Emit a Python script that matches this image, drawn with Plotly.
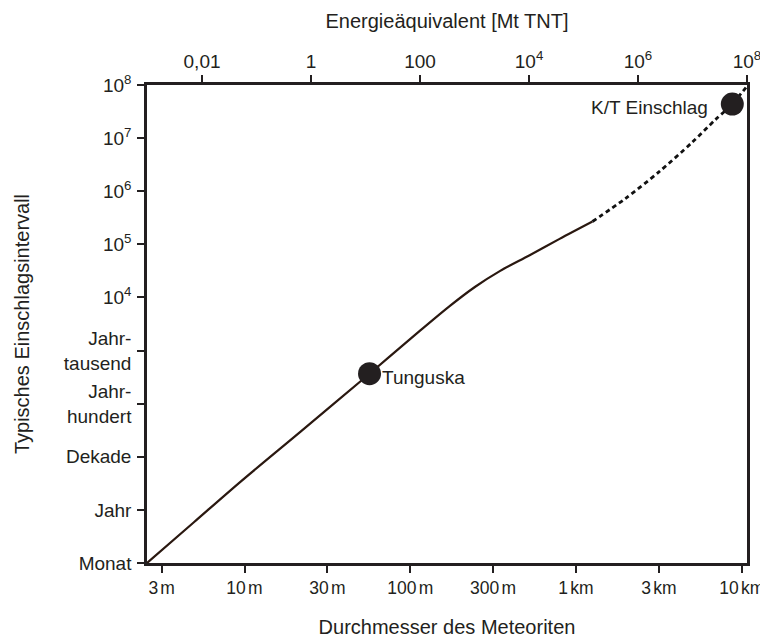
import numpy as np
import plotly.graph_objects as go

# ---- data ----
# solid part of the curve: meteorite diameter [m] vs typical impact interval [years]
solid_diameter_m = [2.58, 4.95, 9.48, 21.8, 56.8, 114.6, 173.6, 245.5, 347, 525.6, 796.5, 1257.6]
solid_interval_yr = [0.1, 0.584, 3.41, 29.8, 366, 2365, 6936, 15720, 31290, 62300, 126700, 269000]
# dashed (extrapolated) part
dashed_diameter_m = [1257.6, 1986, 3181, 5022, 6941, 8777, 10605]
dashed_interval_yr = [269000, 727500, 2.333e6, 8.31e6, 2.227e7, 4.38e7, 8.97e7]
# named events
event_names = ["Tunguska", "K/T Einschlag"]
event_diameter_m = [56.8, 8777]
event_interval_yr = [366, 4.38e7]

# axis ticks
SP = "<span style='font-size:8px'> </span>"
x_tick_vals = [10**0.5, 10, 10**1.5, 100, 10**2.5, 1000, 10**3.5, 10000]
x_tick_text = ["3" + SP + "m", "10" + SP + "m", "30" + SP + "m", "100" + SP + "m", "300" + SP + "m",
               "1" + SP + "km", "3" + SP + "km", "10" + SP + "km"]
y_tick_vals = [0.1, 1, 10, 100, 1000, 1e4, 1e5, 1e6, 1e7, 1e8]
y_tick_text = ["Monat", "Jahr", "Dekade", "Jahr-<br>hundert", "Jahr-<br>tausend",
               "10<sup>4</sup>", "10<sup>5</sup>", "10<sup>6</sup>", "10<sup>7</sup>", "10<sup>8</sup>"]
e_tick_vals = [0.01, 1, 100, 1e4, 1e6, 1e8]
e_tick_text = ["0,01", "1", "100", "10<sup>4</sup>", "10<sup>6</sup>", "10<sup>8</sup>"]

INK = "#231f20"
FONT = "Liberation Sans, Arial, sans-serif"

fig = go.Figure()
fig.add_trace(go.Scatter(x=solid_diameter_m, y=solid_interval_yr, mode="lines",
                         line=dict(color="#2a1810", width=2.2, shape="spline", smoothing=0.9),
                         hoverinfo="skip", showlegend=False))
fig.add_trace(go.Scatter(x=dashed_diameter_m, y=dashed_interval_yr, mode="lines",
                         line=dict(color="#111111", width=2.8, dash="4.5px,3.5px", shape="spline", smoothing=0.8),
                         hoverinfo="skip", showlegend=False))
fig.add_trace(go.Scatter(x=event_diameter_m, y=event_interval_yr, mode="markers",
                         marker=dict(size=23, color=INK),
                         hoverinfo="skip", showlegend=False))
# invisible trace so the top energy axis is drawn
fig.add_trace(go.Scatter(x=[0.01, 1e8], y=[1, 1], xaxis="x2", mode="markers",
                         marker=dict(opacity=0), hoverinfo="skip", showlegend=False))

fig.add_annotation(x=np.log10(event_diameter_m[0]), y=np.log10(event_interval_yr[0]),
                   text=event_names[0], showarrow=False, xanchor="left", yanchor="middle",
                   xshift=10, yshift=-4, font=dict(family=FONT, size=19, color=INK))
fig.add_annotation(x=np.log10(event_diameter_m[1]), y=np.log10(event_interval_yr[1]),
                   text=event_names[1], showarrow=False, xanchor="right", yanchor="middle",
                   xshift=-22, yshift=-3, font=dict(family=FONT, size=19, color=INK))

def axis_common(size):
    return dict(showline=True, linecolor=INK, linewidth=2.5, ticks="outside",
                ticklen=7, tickwidth=2, tickcolor=INK, showgrid=False, zeroline=False,
                tickfont=dict(family=FONT, size=size, color=INK))

fig.update_layout(
    width=768, height=640,
    margin=dict(l=139, r=20, t=75, b=76),
    paper_bgcolor="white", plot_bgcolor="white",
    font=dict(family=FONT, color=INK),
    xaxis=dict(type="log", range=[0.4116, 4.032], tickvals=x_tick_vals, ticktext=x_tick_text,
               mirror=False,
               title=dict(text="Durchmesser des Meteoriten", standoff=24,
                          font=dict(family=FONT, size=20, color=INK)),
               **axis_common(17.5)),
    xaxis2=dict(type="log", range=[-3.01, 8.0], overlaying="x", side="top", anchor="y",
                tickvals=e_tick_vals, ticktext=e_tick_text, ticklabelstandoff=0,
                title=dict(text="Energieäquivalent [Mt TNT]", standoff=14,
                           font=dict(family=FONT, size=20, color=INK)),
                **axis_common(19)),
    yaxis=dict(type="log", range=[-1, 8], tickvals=y_tick_vals, ticktext=y_tick_text,
               mirror=True, ticklabelstandoff=2,
               title=dict(text="Typisches Einschlagsintervall", standoff=29,
                          font=dict(family=FONT, size=20, color=INK)),
               **axis_common(19)),
)

fig.write_html("out.html", config={"displayModeBar": False})
